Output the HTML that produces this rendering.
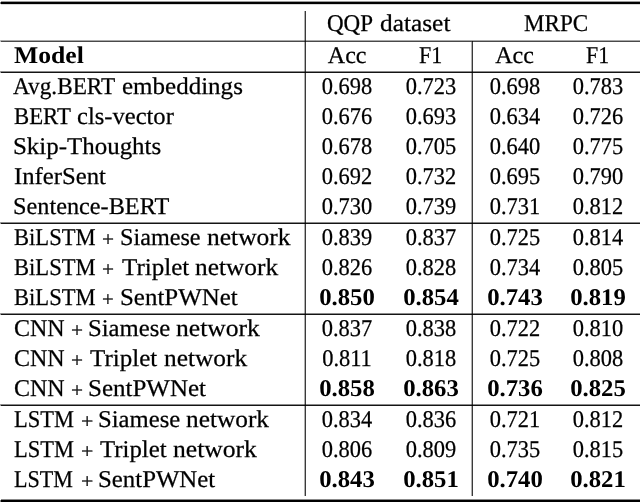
<!DOCTYPE html>
<html><head><meta charset="utf-8"><style>
html,body{margin:0;padding:0;background:#fff;}
body{width:640px;height:502px;position:relative;overflow:hidden;}
.t{position:absolute;white-space:nowrap;font-family:"Liberation Serif",serif;font-size:24px;line-height:30px;height:30px;color:#000;text-rendering:geometricPrecision;-webkit-text-stroke:0.25px #000;}
.c{text-align:center;}
.b{font-weight:bold;-webkit-text-stroke:0px #000;}
.l{position:absolute;mix-blend-mode:multiply;}
.w{position:absolute;left:0;top:0;width:640px;height:502px;will-change:transform;}
</style></head><body>
<div class="l" style="left:1px;top:1px;width:639px;height:1px;background:#9a9a9a"></div>
<div class="l" style="left:1px;top:2px;width:639px;height:2px;background:#000"></div>
<div class="l" style="left:1px;top:4px;width:639px;height:1px;background:#d8d8d8"></div>
<div class="l" style="left:0px;top:2px;width:1px;height:2px;background:#808080"></div>
<div class="l" style="left:1px;top:40px;width:639px;height:1px;background:#a8a8a8"></div>
<div class="l" style="left:1px;top:41px;width:639px;height:1px;background:#4a4a4a"></div>
<div class="l" style="left:0px;top:40px;width:1px;height:2px;background:#c0c0c0"></div>
<div class="l" style="left:1px;top:71px;width:639px;height:1px;background:#8a8a8a"></div>
<div class="l" style="left:1px;top:72px;width:639px;height:1px;background:#141414"></div>
<div class="l" style="left:0px;top:71px;width:1px;height:2px;background:#a0a0a0"></div>
<div class="l" style="left:1px;top:222px;width:639px;height:1px;background:#8a8a8a"></div>
<div class="l" style="left:1px;top:223px;width:639px;height:1px;background:#141414"></div>
<div class="l" style="left:0px;top:222px;width:1px;height:2px;background:#a0a0a0"></div>
<div class="l" style="left:1px;top:313px;width:639px;height:1px;background:#8a8a8a"></div>
<div class="l" style="left:1px;top:314px;width:639px;height:1px;background:#141414"></div>
<div class="l" style="left:0px;top:313px;width:1px;height:2px;background:#a0a0a0"></div>
<div class="l" style="left:1px;top:404px;width:639px;height:1px;background:#8a8a8a"></div>
<div class="l" style="left:1px;top:405px;width:639px;height:1px;background:#141414"></div>
<div class="l" style="left:0px;top:404px;width:1px;height:2px;background:#a0a0a0"></div>
<div class="l" style="left:1px;top:499px;width:639px;height:1px;background:#888"></div>
<div class="l" style="left:1px;top:500px;width:639px;height:2px;background:#000"></div>
<div class="l" style="left:0px;top:500px;width:1px;height:2px;background:#808080"></div>
<div class="l" style="left:304px;top:11px;width:1px;height:485px;background:#b0b0b0"></div>
<div class="l" style="left:305px;top:11px;width:1px;height:485px;background:#3a3a3a"></div>
<div class="l" style="left:471px;top:42px;width:1px;height:454px;background:#b0b0b0"></div>
<div class="l" style="left:472px;top:41px;width:1px;height:455px;background:#3a3a3a"></div>
<div class="w">
<div class="t" style="left:327.10px;top:9px;transform:scaleX(0.9587);transform-origin:0 0">QQP</div>
<div class="t" style="left:380.20px;top:9px;transform:scaleX(1.0569);transform-origin:0 0">dataset</div>
<div class="t" style="left:523.80px;top:9px;transform:scaleX(0.9632);transform-origin:0 0">MRPC</div>
<div class="t b" style="left:13.50px;top:41px;transform:scaleX(1.068);transform-origin:0 0">Model</div>
<div class="t" style="left:327.80px;top:41px">Acc</div>
<div class="t" style="left:418.60px;top:41px;transform:scaleX(0.9174);transform-origin:0 0">F1</div>
<div class="t" style="left:495.20px;top:41px">Acc</div>
<div class="t" style="left:586.30px;top:41px;transform:scaleX(0.9136);transform-origin:0 0">F1</div>
<div class="t" style="left:13.40px;top:72px;transform:scaleX(0.9692);transform-origin:0 0">Avg.BERT</div>
<div class="t" style="left:121.90px;top:72px;transform:scaleX(1.0421);transform-origin:0 0">embeddings</div>
<div class="t" style="left:13.70px;top:102px;transform:scaleX(0.9492);transform-origin:0 0">BERT</div>
<div class="t" style="left:76.90px;top:102px;transform:scaleX(1.0234);transform-origin:0 0">cls-vector</div>
<div class="t" style="left:12.70px;top:132px;transform:scaleX(1.0386);transform-origin:0 0">Skip-Thoughts</div>
<div class="t" style="left:13.70px;top:162px;transform:scaleX(1.0295);transform-origin:0 0">InferSent</div>
<div class="t" style="left:12.70px;top:192px;transform:scaleX(1.0112);transform-origin:0 0">Sentence-BERT</div>
<div class="t" style="left:13.70px;top:223px;transform:scaleX(0.9412);transform-origin:0 0">BiLSTM</div>
<div class="t" style="left:101.90px;top:223px;transform:scale(0.8909,0.87) translateY(1.5px);transform-origin:0 18px">+</div>
<div class="t" style="left:120.15px;top:223px;transform:scaleX(1.0071);transform-origin:0 0">Siamese</div>
<div class="t" style="left:207.40px;top:223px;transform:scaleX(1.0617);transform-origin:0 0">network</div>
<div class="t" style="left:13.70px;top:253px;transform:scaleX(0.9412);transform-origin:0 0">BiLSTM</div>
<div class="t" style="left:101.90px;top:253px;transform:scale(0.8909,0.87) translateY(1.5px);transform-origin:0 18px">+</div>
<div class="t" style="left:121.50px;top:253px;transform:scaleX(1.0437);transform-origin:0 0">Triplet</div>
<div class="t" style="left:194.90px;top:253px;transform:scaleX(1.0565);transform-origin:0 0">network</div>
<div class="t" style="left:13.70px;top:283px;transform:scaleX(0.9412);transform-origin:0 0">BiLSTM</div>
<div class="t" style="left:102.40px;top:283px;transform:scale(0.8682,0.87) translateY(1.5px);transform-origin:0 18px">+</div>
<div class="t" style="left:119.65px;top:283px;transform:scaleX(1.0383);transform-origin:0 0">SentPWNet</div>
<div class="t" style="left:13.90px;top:314px">CNN</div>
<div class="t" style="left:70.90px;top:314px;transform:scale(0.8909,0.87) translateY(1.5px);transform-origin:0 18px">+</div>
<div class="t" style="left:88.20px;top:314px;transform:scaleX(1.0286);transform-origin:0 0">Siamese</div>
<div class="t" style="left:176.40px;top:314px;transform:scaleX(1.0667);transform-origin:0 0">network</div>
<div class="t" style="left:13.90px;top:344px">CNN</div>
<div class="t" style="left:70.90px;top:344px;transform:scale(0.8909,0.87) translateY(1.5px);transform-origin:0 18px">+</div>
<div class="t" style="left:90.20px;top:344px;transform:scaleX(1.0422);transform-origin:0 0">Triplet</div>
<div class="t" style="left:163.60px;top:344px;transform:scaleX(1.0564);transform-origin:0 0">network</div>
<div class="t" style="left:13.90px;top:374px">CNN</div>
<div class="t" style="left:70.90px;top:374px;transform:scale(0.8909,0.87) translateY(1.5px);transform-origin:0 18px">+</div>
<div class="t" style="left:88.15px;top:374px;transform:scaleX(1.041);transform-origin:0 0">SentPWNet</div>
<div class="t" style="left:13.70px;top:405px;transform:scaleX(0.9355);transform-origin:0 0">LSTM</div>
<div class="t" style="left:80.65px;top:405px;transform:scale(0.9136,0.87) translateY(1.5px);transform-origin:0 18px">+</div>
<div class="t" style="left:98.30px;top:405px;transform:scaleX(1.0273);transform-origin:0 0">Siamese</div>
<div class="t" style="left:186.40px;top:405px;transform:scaleX(1.0551);transform-origin:0 0">network</div>
<div class="t" style="left:13.70px;top:435px;transform:scaleX(0.9355);transform-origin:0 0">LSTM</div>
<div class="t" style="left:80.65px;top:435px;transform:scale(0.9136,0.87) translateY(1.5px);transform-origin:0 18px">+</div>
<div class="t" style="left:100.20px;top:435px;transform:scaleX(1.0344);transform-origin:0 0">Triplet</div>
<div class="t" style="left:173.10px;top:435px;transform:scaleX(1.0667);transform-origin:0 0">network</div>
<div class="t" style="left:13.70px;top:465px;transform:scaleX(0.9195);transform-origin:0 0">LSTM</div>
<div class="t" style="left:80.65px;top:465px;transform:scale(0.9136,0.87) translateY(1.5px);transform-origin:0 18px">+</div>
<div class="t" style="left:97.90px;top:465px;transform:scaleX(1.0343);transform-origin:0 0">SentPWNet</div>
<div class="t c" style="left:287.20px;top:72px;width:120px;transform:scaleX(0.935)">0.698</div>
<div class="t c" style="left:371.30px;top:72px;width:120px;transform:scaleX(0.935)">0.723</div>
<div class="t c" style="left:454.70px;top:72px;width:120px;transform:scaleX(0.935)">0.698</div>
<div class="t c" style="left:538.10px;top:72px;width:120px;transform:scaleX(0.935)">0.783</div>
<div class="t c" style="left:287.20px;top:102px;width:120px;transform:scaleX(0.935)">0.676</div>
<div class="t c" style="left:371.30px;top:102px;width:120px;transform:scaleX(0.935)">0.693</div>
<div class="t c" style="left:454.70px;top:102px;width:120px;transform:scaleX(0.935)">0.634</div>
<div class="t c" style="left:538.10px;top:102px;width:120px;transform:scaleX(0.935)">0.726</div>
<div class="t c" style="left:287.20px;top:132px;width:120px;transform:scaleX(0.935)">0.678</div>
<div class="t c" style="left:371.30px;top:132px;width:120px;transform:scaleX(0.935)">0.705</div>
<div class="t c" style="left:454.70px;top:132px;width:120px;transform:scaleX(0.935)">0.640</div>
<div class="t c" style="left:538.10px;top:132px;width:120px;transform:scaleX(0.935)">0.775</div>
<div class="t c" style="left:287.20px;top:162px;width:120px;transform:scaleX(0.935)">0.692</div>
<div class="t c" style="left:371.30px;top:162px;width:120px;transform:scaleX(0.935)">0.732</div>
<div class="t c" style="left:454.70px;top:162px;width:120px;transform:scaleX(0.935)">0.695</div>
<div class="t c" style="left:538.10px;top:162px;width:120px;transform:scaleX(0.935)">0.790</div>
<div class="t c" style="left:287.20px;top:192px;width:120px;transform:scaleX(0.935)">0.730</div>
<div class="t c" style="left:371.30px;top:192px;width:120px;transform:scaleX(0.935)">0.739</div>
<div class="t c" style="left:454.70px;top:192px;width:120px;transform:scaleX(0.935)">0.731</div>
<div class="t c" style="left:538.10px;top:192px;width:120px;transform:scaleX(0.935)">0.812</div>
<div class="t c" style="left:287.20px;top:223px;width:120px;transform:scaleX(0.935)">0.839</div>
<div class="t c" style="left:371.30px;top:223px;width:120px;transform:scaleX(0.935)">0.837</div>
<div class="t c" style="left:454.70px;top:223px;width:120px;transform:scaleX(0.935)">0.725</div>
<div class="t c" style="left:538.10px;top:223px;width:120px;transform:scaleX(0.935)">0.814</div>
<div class="t c" style="left:287.20px;top:253px;width:120px;transform:scaleX(0.935)">0.826</div>
<div class="t c" style="left:371.30px;top:253px;width:120px;transform:scaleX(0.935)">0.828</div>
<div class="t c" style="left:454.70px;top:253px;width:120px;transform:scaleX(0.935)">0.734</div>
<div class="t c" style="left:538.10px;top:253px;width:120px;transform:scaleX(0.935)">0.805</div>
<div class="t c b" style="left:287.20px;top:283px;width:120px;transform:scaleX(1.03)">0.850</div>
<div class="t c b" style="left:371.30px;top:283px;width:120px;transform:scaleX(1.03)">0.854</div>
<div class="t c b" style="left:454.70px;top:283px;width:120px;transform:scaleX(1.03)">0.743</div>
<div class="t c b" style="left:538.10px;top:283px;width:120px;transform:scaleX(1.03)">0.819</div>
<div class="t c" style="left:287.20px;top:314px;width:120px;transform:scaleX(0.935)">0.837</div>
<div class="t c" style="left:371.30px;top:314px;width:120px;transform:scaleX(0.935)">0.838</div>
<div class="t c" style="left:454.70px;top:314px;width:120px;transform:scaleX(0.935)">0.722</div>
<div class="t c" style="left:538.10px;top:314px;width:120px;transform:scaleX(0.935)">0.810</div>
<div class="t c" style="left:287.20px;top:344px;width:120px;transform:scaleX(0.935)">0.811</div>
<div class="t c" style="left:371.30px;top:344px;width:120px;transform:scaleX(0.935)">0.818</div>
<div class="t c" style="left:454.70px;top:344px;width:120px;transform:scaleX(0.935)">0.725</div>
<div class="t c" style="left:538.10px;top:344px;width:120px;transform:scaleX(0.935)">0.808</div>
<div class="t c b" style="left:287.20px;top:374px;width:120px;transform:scaleX(1.03)">0.858</div>
<div class="t c b" style="left:371.30px;top:374px;width:120px;transform:scaleX(1.03)">0.863</div>
<div class="t c b" style="left:454.70px;top:374px;width:120px;transform:scaleX(1.03)">0.736</div>
<div class="t c b" style="left:538.10px;top:374px;width:120px;transform:scaleX(1.03)">0.825</div>
<div class="t c" style="left:287.20px;top:405px;width:120px;transform:scaleX(0.935)">0.834</div>
<div class="t c" style="left:371.30px;top:405px;width:120px;transform:scaleX(0.935)">0.836</div>
<div class="t c" style="left:454.70px;top:405px;width:120px;transform:scaleX(0.935)">0.721</div>
<div class="t c" style="left:538.10px;top:405px;width:120px;transform:scaleX(0.935)">0.812</div>
<div class="t c" style="left:287.20px;top:435px;width:120px;transform:scaleX(0.935)">0.806</div>
<div class="t c" style="left:371.30px;top:435px;width:120px;transform:scaleX(0.935)">0.809</div>
<div class="t c" style="left:454.70px;top:435px;width:120px;transform:scaleX(0.935)">0.735</div>
<div class="t c" style="left:538.10px;top:435px;width:120px;transform:scaleX(0.935)">0.815</div>
<div class="t c b" style="left:287.20px;top:465px;width:120px;transform:scaleX(1.03)">0.843</div>
<div class="t c b" style="left:371.30px;top:465px;width:120px;transform:scaleX(1.03)">0.851</div>
<div class="t c b" style="left:454.70px;top:465px;width:120px;transform:scaleX(1.03)">0.740</div>
<div class="t c b" style="left:538.10px;top:465px;width:120px;transform:scaleX(1.03)">0.821</div>
</div>
</body></html>
